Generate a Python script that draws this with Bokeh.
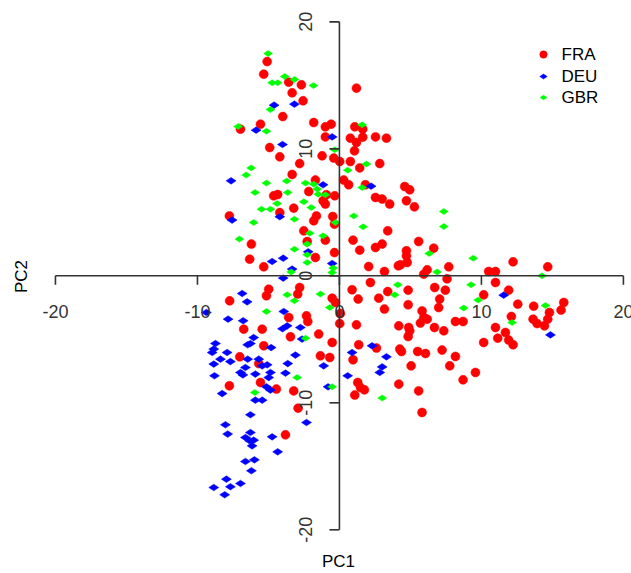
import numpy as np
from bokeh.plotting import figure
from bokeh.models import Range1d, Label
from bokeh.embed import file_html
from bokeh.resources import INLINE
from bokeh.core.properties import value

# ---------------- data (PC1, PC2 scores) ----------------
fra_x = [-5.09, -5.33, -3.57, -2.68, -3.33, -2.56, -3.99, -5.56, -6.97, -1.81, -0.99, -0.58, -0.99, -4.91,
         -4.20, -1.22, -0.40, -2.80, -3.33, -1.69, -4.63, -4.35, -2.16, -0.92, -0.33, 1.20, 1.08, 1.64,
         0.77, 1.64, 2.54, 3.31, 1.20, 1.06, 0.02, 0.77, 2.84, 1.43, 0.30, 0.65, 1.83, 4.60, 4.95,
         2.54, 3.01, 4.72, -1.15, -0.99, -3.22, -7.75, -4.20, -1.62, -1.81, -0.47, -0.35, -2.51, -0.99,
         -2.27, -6.20, -0.35, -1.69, -6.32, -5.33, -4.98, -5.14, -2.80, -2.94, -7.73, -0.51, -0.28,
         -3.57, -2.32, -2.23, -6.74, -5.44, -3.45, -1.46, -5.33, -0.51, 3.54, 5.28, 3.40, 0.96, 1.43,
         2.54, 3.01, 5.58, 4.72, 4.72, 4.77, 4.30, 4.15, 6.64, 2.06, 3.17, 6.18, 5.94, 7.70, 7.58,
         2.18, 0.89, 1.32, 3.40, 2.77, 4.84, 6.71, 7.46, 4.84, 7.06, 6.99, 3.17, 5.82, 5.94, 6.18,
         5.70, 0.07, 0.02, 1.20, 4.18, 4.88, 4.95, 4.84, 6.69, 7.35, 8.17, 8.71, 1.36, 4.25, 7.23,
         12.23, 10.51, 10.99, 14.67, 10.99, 11.92, 10.16, 12.56, 13.68, 15.80, 15.61, 14.79, 14.67,
         12.11, 13.64, 13.92, 14.44, 10.99, 11.15, 11.69, 11.92, 12.23, 10.16, -7.02, -5.68, -1.34,
         -0.68, -5.56, -7.75, -4.44, -3.22, -2.91, -3.80, 2.61, 0.96, 4.37, 5.51, 6.06, 8.17, 7.77,
         5.05, 9.58, 8.71, 1.29, 1.48, 1.76, 4.18, 1.08, 5.58, 5.82]
fra_y = [16.87, 15.88, 15.25, 15.04, 14.41, 13.78, 12.54, 11.94, 11.55, 12.07, 11.73, 11.94, 10.94, 10.10,
         9.37, 9.45, 9.27, 8.84, 7.98, 7.54, 6.30, 6.40, 6.64, 6.38, 6.30, 14.78, 11.73, 11.55,
         10.84, 10.92, 10.94, 10.84, 10.50, 9.84, 9.00, 9.00, 8.84, 8.50, 7.54, 7.17, 7.17, 7.03, 6.77,
         6.17, 6.04, 5.91, 5.91, 5.65, 5.33, 4.72, 4.98, 4.72, 4.33, 4.67, 4.07, 3.54, 2.81,
         2.70, 2.50, 1.83, 1.44, 1.31, 0.71, -1.05, -1.57, -0.92, -1.44, -1.97, -1.76, -2.10,
         -3.28, -3.15, -3.60, -4.20, -4.20, -4.80, -4.59, -5.51, -5.25, 5.65, 5.43, 3.54, 2.81, 2.02,
         2.23, 2.50, 2.70, 1.97, 1.57, 1.05, 0.87, 0.79, 2.18, 0.73, 0.34, 0.47, 0.13, 0.71, -0.24,
         -0.53, -1.10, -1.83, -1.24, -1.76, -1.13, -0.92, -1.13, -2.28, -1.83, -2.50, -2.62, -2.76, -3.28, -3.41,
         -3.72, -2.97, -3.76, -3.86, -3.94, -4.07, -4.33, -4.78, -4.07, -4.33, -3.60, -3.60, -5.43, -5.77, -5.85,
         1.10, 0.34, 0.34, 0.71, -0.53, -1.13, -1.50, -2.23, -2.39, -2.10, -2.70, -2.89, -3.41,
         -3.20, -3.41, -3.76, -3.94, -4.07, -4.91, -4.46, -5.06, -5.43, -5.25, -6.38, -6.91, -6.30,
         -6.43, -8.40, -8.66, -8.92, -9.06, -10.42, -12.52, -5.69, -6.61, -5.96, -5.96, -6.12, -6.35, -7.09,
         -7.09, -7.61, -8.19, -8.40, -8.80, -8.98, -8.53, -9.39, -9.06, -10.76]

deu_x = [-4.60, -3.17, -5.87, -0.51, -4.01, -7.63, -1.15, 2.23, -7.56, -4.20, -2.20, -4.74, -3.96, -0.51,
         -3.33, -3.96, -6.85, -6.50, -9.37, -3.92, -7.84, -6.78, -3.68, -4.01, -2.75, -2.63, -6.04, -6.27,
         -6.46, -8.73, -8.85, -4.81, -8.96, -8.85, -7.91, -8.38, -7.68, -6.46, -6.62, -5.68, -5.44, -5.09,
         -6.97, -6.80, -5.92, -4.86, -4.98, -3.80, -3.64, -3.10, -1.11, -8.80, -5.14, -4.86, -8.26, -5.92,
         -5.44, -0.80, -2.32, -6.27, -8.03, -7.87, -6.27, -6.62, -6.32, -6.04, -6.15, -4.74, -4.35, -6.62,
         -5.99, -6.20, -7.96, -7.68, -6.97, -8.85, -8.08, 2.30, 0.89, 3.31, 3.01, 2.84, 0.58, 11.57, 14.86]
deu_y = [13.44, 13.52, 11.47, 10.94, 10.34, 7.48, 7.17, 7.06, 4.39, 4.65, 1.89, 1.13, 1.39, 0.97,
         0.53, -0.18, -1.39, -2.05, -2.89, -2.81, -3.41, -3.54, -3.94, -4.17, -4.07, -4.98, -4.86, -5.33,
         -5.43, -5.33, -5.77, -5.65, -6.04, -6.95, -6.04, -6.56, -6.75, -6.56, -7.22, -6.56, -7.09, -7.01,
         -7.61, -7.80, -7.74, -7.61, -8.01, -7.66, -6.91, -6.24, -7.09, -7.87, -8.74, -9.00, -9.27, -9.79,
         -9.79, -8.74, -11.55, -10.94, -11.73, -12.46, -12.34, -12.73, -12.99, -12.94, -13.39, -12.68, -13.86, -14.62,
         -14.49, -15.35, -16.01, -16.61, -16.35, -16.67, -17.24, -5.51, -6.04, -6.38, -7.17, -7.61, -7.87, -1.52, -4.65]

gbr_x = [-5.02, -3.85, -4.74, -4.35, -3.17, -1.83, -4.86, -7.13, -5.14, -0.33, -6.22, -6.57, -5.14, -3.71,
         -2.39, -1.81, -1.57, -1.50, -5.94, -3.64, 1.60, 1.90, 0.58, 1.60, -0.99, -4.39, -2.51, -1.99,
         -5.49, -4.86, -3.17, -0.28, -6.04, -2.09, -1.15, -7.04, -2.27, -3.17, -2.27, -2.27, -0.44, -0.51,
         -3.40, -3.68, -3.17, -1.34, -0.68, -5.14, -2.39, 1.01, 7.35, 1.67, 7.35, 6.32, 9.42, 6.88,
         4.11, 3.89, 9.27, 8.75, 9.77, 14.27, 14.51, 12.16, -2.98, -5.96, -0.51, 3.01]
gbr_y = [17.50, 15.69, 15.20, 15.20, 15.46, 14.98, 13.09, 11.76, 11.39, 9.92, 8.50, 7.93, 7.30, 7.46,
         7.30, 7.22, 6.83, 6.43, 6.56, 6.56, 11.89, 8.80, 8.32, 6.95, 6.38, 5.69, 5.83, 5.38,
         5.25, 5.25, 4.46, 4.20, 4.20, 3.36, 3.15, 2.89, 2.50, 2.10, 1.65, 1.05, 0.61, 0.26,
         0.31, -1.50, -1.97, -1.44, -2.50, -2.81, -4.91, 4.72, 5.06, 3.86, 3.88, 1.76, 1.39, 0.31,
         -0.71, -1.50, -0.71, -2.54, -1.91, 0.00, -2.34, -3.68, -8.01, -9.19, -8.74, -9.63]

series_names = ["FRA", "DEU", "GBR"]
tick_values = [-20, -10, 0, 10, 20]
tick_labels = ["-20", "-10", "0", "10", "20"]

# ---------------- layout helpers ----------------
W, H = 631, 573
X0, X1 = -23.87, 20.57
Y0, Y1 = -23.44, 21.68


def xd(px):
    return X0 + px / W * (X1 - X0)


def yd(py):
    return Y1 - py / H * (Y1 - Y0)


FONT_NAME = "Liberation Sans"
FONT = value(FONT_NAME)

p = figure(width=W, height=H, x_range=Range1d(X0, X1), y_range=Range1d(Y0, Y1),
           x_axis_location=None, y_axis_location=None, toolbar_location=None,
           output_backend="svg", min_border=0)
p.outline_line_color = None
p.grid.visible = False
p.background_fill_color = "white"
p.border_fill_color = "white"

styles = [dict(marker="circle", size=9, angle=0.0, color="#FF0000"),
          dict(marker="diamond", size=10, angle=np.pi / 2, color="#0000FF"),
          dict(marker="diamond", size=9, angle=np.pi / 2, color="#00FF00")]
legend_sizes = [7.5, 7.5, 7]

for (xs, ys), st in zip([(fra_x, fra_y), (deu_x, deu_y), (gbr_x, gbr_y)], styles):
    p.scatter(xs, ys, marker=st["marker"], size=st["size"], angle=st["angle"],
              fill_color=st["color"], line_color=st["color"], line_width=0.5)

# axes through the origin
lo, hi = tick_values[0], tick_values[-1]
p.segment(x0=[lo, 0], y0=[0, lo], x1=[hi, 0], y1=[0, hi], line_color="#333333", line_width=1.6)
tick_len_x = 9 / (H / (Y1 - Y0))
tick_len_y = 10 / (W / (X1 - X0))
p.segment(x0=tick_values, y0=[0] * 5, x1=tick_values, y1=[-tick_len_x] * 5,
          line_color="#333333", line_width=1.6)
p.segment(x0=[0] * 5, y0=tick_values, x1=[-tick_len_y] * 5, y1=tick_values,
          line_color="#333333", line_width=1.6)

p.text(x=tick_values, y=[yd(311)] * 5, text=tick_labels, text_align="center",
       text_baseline="middle", text_font=FONT, text_font_size="18px", text_color="#333333")
p.text(x=[xd(305)] * 5, y=tick_values, text=tick_labels, angle=np.pi / 2, text_align="center",
       text_baseline="middle", text_font=FONT, text_font_size="18px", text_color="#333333")

p.add_layout(Label(x=xd(338), y=yd(561), text="PC1", text_align="center", text_baseline="middle",
                   text_font=FONT_NAME, text_font_size="17px", text_color="black"))
p.add_layout(Label(x=xd(21), y=yd(276), text="PC2", angle=np.pi / 2, text_align="center",
                   text_baseline="middle", text_font=FONT_NAME, text_font_size="17px", text_color="black"))

# legend (top right, no box)
leg_py = [54, 76, 97]
for name, st, sz, py in zip(series_names, styles, legend_sizes, leg_py):
    p.scatter([xd(543)], [yd(py)], marker=st["marker"], size=sz, angle=st["angle"],
              fill_color=st["color"], line_color=st["color"], line_width=0.5)
    p.text(x=[xd(561)], y=[yd(py)], text=[name], text_align="left", text_baseline="middle",
           text_font=FONT, text_font_size="17px", text_color="black")

open("out.html", "w").write(file_html(p, INLINE))
